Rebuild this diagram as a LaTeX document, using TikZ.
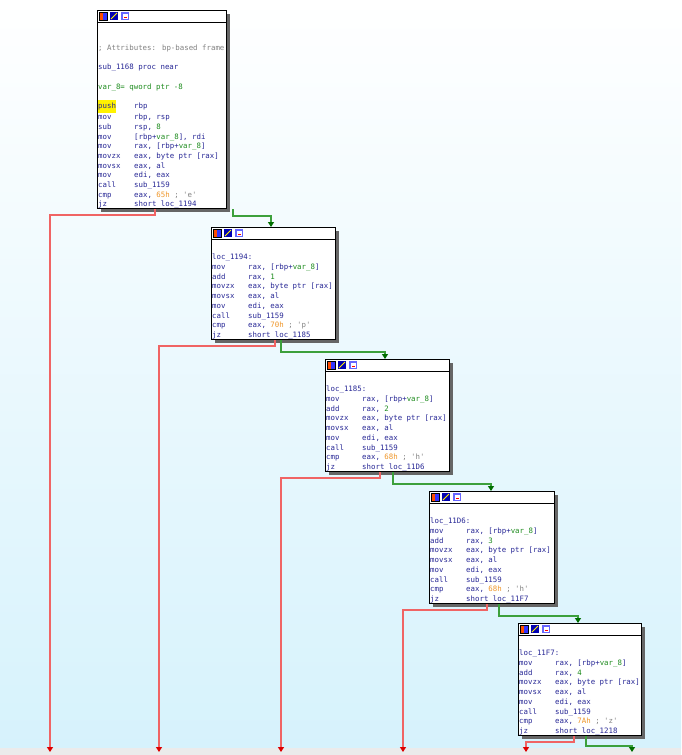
\documentclass[tikz,border=0pt]{standalone}
\usepackage{fontspec}
\newfontfamily\asmfont{DejaVu Sans Mono}
\usetikzlibrary{calc,arrows.meta}
\definecolor{bgtop}{RGB}{255,255,255}
\definecolor{bgbot}{RGB}{214,242,252}
\definecolor{asm}{RGB}{40,40,150}
\definecolor{agreen}{RGB}{30,140,30}
\definecolor{aorange}{RGB}{240,150,40}
\definecolor{agrey}{RGB}{130,130,130}
\definecolor{ered}{RGB}{240,100,100}
\definecolor{egreen}{RGB}{60,160,60}
\definecolor{tipred}{RGB}{220,0,0}
\definecolor{tipgreen}{RGB}{0,110,0}
\newcommand{\ins}[2]{\makebox[36pt][l]{#1}#2}
\newcommand{\vv}{\textcolor{agreen}{var\_8}}
\newcommand{\nn}[1]{\textcolor{agreen}{#1}}
\newcommand{\oo}[1]{\textcolor{aorange}{#1}}
\newcommand{\cm}[1]{\textcolor{agrey}{#1}}
\tikzset{
  x=1pt,y=-1pt,
  blk/.style={draw=black,line width=1pt,fill=white,minimum width=#1,anchor=north west,inner sep=0pt},
  asmtxt/.style={anchor=north west,align=left,inner sep=0pt,text=asm,font=\asmfont\fontsize{7.4}{9.7}\selectfont},
  redge/.style={draw=ered,line width=1.2pt,-{Triangle[length=5pt,width=6pt,fill=tipred,color=tipred]}},
  gedge/.style={draw=egreen,line width=1.2pt,-{Triangle[length=5pt,width=6pt,fill=tipgreen,color=tipgreen]}},
}
\newcommand{\block}[5]{% name, x, y, w, h
  \fill[black!60] (#2+4,#3+4) rectangle (#2+#4+4,#3+#5+4);
  \node[blk=#4pt,minimum height=#5pt] (#1) at (#2,#3) {};
  \draw[line width=0.6pt] (#2,#3+12) -- (#2+#4,#3+12);
  \fill[red!70!yellow] (#2+2,#3+2) rectangle (#2+6,#3+10);
  \fill[blue!80] (#2+6,#3+2) rectangle (#2+10,#3+10);
  \draw[black] (#2+2,#3+2) rectangle (#2+10,#3+10);
  \fill[blue!70!black] (#2+13,#3+2) rectangle (#2+21,#3+10);
  \draw[yellow,line width=1pt] (#2+14,#3+9) -- (#2+20,#3+3);
  \fill[blue!60] (#2+24,#3+2) rectangle (#2+32,#3+10);
  \fill[white] (#2+25.5,#3+3.5) rectangle (#2+30.5,#3+8.5);
  \fill[red] (#2+26.5,#3+6.5) rectangle (#2+29.5,#3+7.5);
}
\begin{document}
\begin{tikzpicture}
\shade[top color=bgtop,bottom color=bgbot] (0,0) rectangle (681,748);
\fill[black!8] (0,748) rectangle (681,755);
\useasboundingbox (0,0) rectangle (681,755);

\block{b1}{97}{10}{129}{198}
\node[asmtxt] (t1) at (98,44.5) {\cm{; Attributes: bp-based frame}\\ \mbox{}\\
sub\_1168 proc near\\ \mbox{}\\
\textcolor{agreen}{var\_8= qword ptr -8}\\ \mbox{}\\
\ins{\colorbox{yellow}{\kern-3pt push\kern-3pt}}{rbp}\\
\ins{mov}{rbp, rsp}\\
\ins{sub}{rsp, \nn{8}}\\
\ins{mov}{[rbp+\vv], rdi}\\
\ins{mov}{rax, [rbp+\vv]}\\
\ins{movzx}{eax, byte ptr [rax]}\\
\ins{movsx}{eax, al}\\
\ins{mov}{edi, eax}\\
\ins{call}{sub\_1159}\\
\ins{cmp}{eax, \oo{65h} \cm{; 'e'}}\\
\ins{jz}{short loc\_1194}};

\block{b2}{211}{227}{124}{112}
\node[asmtxt] (t2) at (212,254) {loc\_1194:\\
\ins{mov}{rax, [rbp+\vv]}\\
\ins{add}{rax, \nn{1}}\\
\ins{movzx}{eax, byte ptr [rax]}\\
\ins{movsx}{eax, al}\\
\ins{mov}{edi, eax}\\
\ins{call}{sub\_1159}\\
\ins{cmp}{eax, \oo{70h} \cm{; 'p'}}\\
\ins{jz}{short loc\_1185}};

\block{b3}{325}{359}{124}{112}
\node[asmtxt] (t3) at (326,386) {loc\_1185:\\
\ins{mov}{rax, [rbp+\vv]}\\
\ins{add}{rax, \nn{2}}\\
\ins{movzx}{eax, byte ptr [rax]}\\
\ins{movsx}{eax, al}\\
\ins{mov}{edi, eax}\\
\ins{call}{sub\_1159}\\
\ins{cmp}{eax, \oo{68h} \cm{; 'h'}}\\
\ins{jz}{short loc\_11D6}};

\block{b4}{429}{491}{125}{112}
\node[asmtxt] (t4) at (430,518) {loc\_11D6:\\
\ins{mov}{rax, [rbp+\vv]}\\
\ins{add}{rax, \nn{3}}\\
\ins{movzx}{eax, byte ptr [rax]}\\
\ins{movsx}{eax, al}\\
\ins{mov}{edi, eax}\\
\ins{call}{sub\_1159}\\
\ins{cmp}{eax, \oo{68h} \cm{; 'h'}}\\
\ins{jz}{short loc\_11F7}};

\block{b5}{518}{623}{123}{112}
\node[asmtxt] (t5) at (519,650) {loc\_11F7:\\
\ins{mov}{rax, [rbp+\vv]}\\
\ins{add}{rax, \nn{4}}\\
\ins{movzx}{eax, byte ptr [rax]}\\
\ins{movsx}{eax, al}\\
\ins{mov}{edi, eax}\\
\ins{call}{sub\_1159}\\
\ins{cmp}{eax, \oo{7Ah} \cm{; 'z'}}\\
\ins{jz}{short loc\_1218}};

\coordinate (e1) at (50,752);
\coordinate (e2) at (159,752);
\coordinate (e3) at (281,752);
\coordinate (e4) at (403,752);
\coordinate (e5) at (526,752);
\coordinate (e6) at (632,752);

\draw[redge] ($(b1.south west)+(58,0)$) |- (50,215) -- (e1);
\draw[gedge] ($(b1.south west)+(136,0)$) |- (271,216) -- ($(b2.north west)+(60,0)$);
\draw[redge] ($(b2.south west)+(64,0)$) |- (159,346) -- (e2);
\draw[gedge] ($(b2.south west)+(70,0)$) |- (385,352) -- ($(b3.north west)+(60,0)$);
\draw[redge] ($(b3.south west)+(55,0)$) |- (281,478) -- (e3);
\draw[gedge] ($(b3.south west)+(68,0)$) |- (491,484) -- ($(b4.north west)+(62,0)$);
\draw[redge] ($(b4.south west)+(58,0)$) |- (403,610) -- (e4);
\draw[gedge] ($(b4.south west)+(70,0)$) |- (578,616) -- ($(b5.north west)+(60,0)$);
\draw[redge] ($(b5.south west)+(56,0)$) |- (526,742) -- (e5);
\draw[gedge] ($(b5.south west)+(68,0)$) |- (632,746) -- (e6);
\end{tikzpicture}
\end{document}
